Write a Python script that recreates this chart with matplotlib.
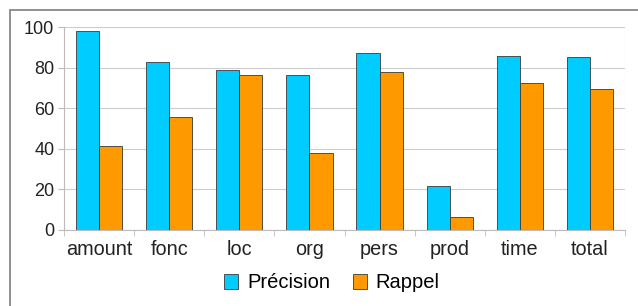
import matplotlib.pyplot as plt
import numpy as np
from matplotlib.patches import Rectangle

# data
categories = ["amount", "fonc", "loc", "org", "pers", "prod", "time", "total"]
precision = [98.0, 83.0, 78.8, 76.3, 87.0, 21.5, 85.6, 85.0]
rappel = [41.6, 55.5, 76.3, 38.0, 77.9, 6.2, 72.2, 69.5]

plt.rcParams['font.family'] = ['Liberation Sans', 'DejaVu Sans']

fig = plt.figure(figsize=(6.38, 3.06), dpi=100)
W, H = 638, 306
ax = fig.add_axes([64 / W, 1 - 230 / H, (625 - 64) / W, (230 - 27) / H])

# outer frame
fig.patches.append(Rectangle((10 / W, -0.1), 1.2, (H - 10) / H + 0.1, transform=fig.transFigure,
                             fill=False, edgecolor='#888888', linewidth=1.3))

x = np.arange(len(categories))
w = 0.33
ax.bar(x - w / 2, precision, w, color='#00CCFF', edgecolor='#3a3a3a', linewidth=0.6, label='Précision', zorder=3)
ax.bar(x + w / 2, rappel, w, color='#FF9900', edgecolor='#3a3a3a', linewidth=0.6, label='Rappel', zorder=3)

ax.set_xlim(-0.5, len(categories) - 0.5)
ax.set_ylim(0, 100)
ax.set_yticks(range(0, 101, 20))
ax.yaxis.grid(True, color='#cccccc', linewidth=0.8, zorder=0)

ax.set_xticks(x)
ax.set_xticklabels(categories)
ax.set_xticks(np.arange(-0.5, len(categories)), minor=True)
ax.tick_params(axis='x', which='major', length=0, pad=7, labelsize=14.3, colors='#222222')
ax.tick_params(axis='x', which='minor', length=4, color='#bbbbbb')
ax.tick_params(axis='y', length=4, color='#bbbbbb', pad=3, labelsize=13, colors='#222222')

for s in ['top', 'right']:
    ax.spines[s].set_visible(False)
ax.spines['left'].set_color('#bbbbbb')
ax.spines['bottom'].set_color('#bbbbbb')
ax.axvline(len(categories) - 0.5, color='#dddddd', linewidth=0.8, zorder=1)

fig.legend(loc='center', bbox_to_anchor=(332 / W, 1 - 283 / H), ncol=2, frameon=False,
           fontsize=14.5, handlelength=0.7, handleheight=0.7, handletextpad=0.45,
           columnspacing=1.1, borderpad=0)

plt.savefig("out.png", dpi=100)
